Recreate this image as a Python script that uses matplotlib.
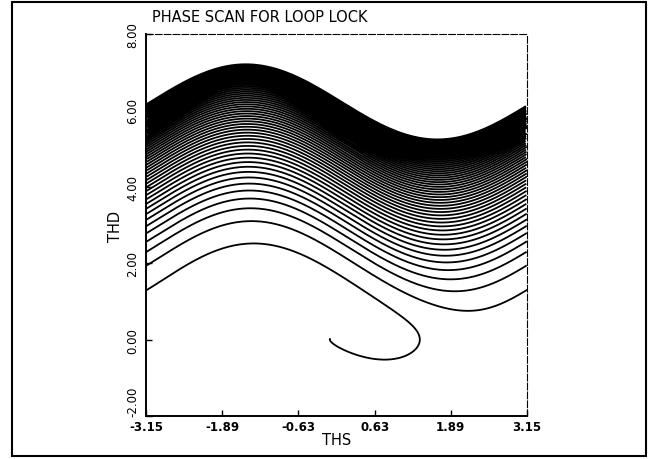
import math
import numpy as np
import matplotlib.pyplot as plt
from matplotlib.patches import Rectangle

# loop model: THS' = THD, THD' = -a*THD*cos(THS) - b*sin(THS)
loop_damping = 0.97
loop_gain = 0.50
start_ths = -3.15
start_thd = 6.155
dt = 0.005
t_max = 600.0
tail_time = 0.25

x_ticks = [-3.15, -1.89, -0.63, 0.63, 1.89, 3.15]
x_tick_labels = ["-3.15", "-1.89", "-0.63", "0.63", "1.89", "3.15"]
y_ticks = [-2, 0, 2, 4, 6, 8]
y_tick_labels = ["-2.00", "0.00", "2.00", "4.00", "6.00", "8.00"]


def deriv(th, w):
    return w, -loop_damping * w * math.cos(th) - loop_gain * math.sin(th)


def scan():
    th, w = start_ths, start_thd
    ths, thd = [th], [w]
    went_negative = False
    stop_at = None
    t = 0.0
    while t < t_max:
        k1 = deriv(th, w)
        k2 = deriv(th + 0.5 * dt * k1[0], w + 0.5 * dt * k1[1])
        k3 = deriv(th + 0.5 * dt * k2[0], w + 0.5 * dt * k2[1])
        k4 = deriv(th + dt * k3[0], w + dt * k3[1])
        th += dt / 6 * (k1[0] + 2 * k2[0] + 2 * k3[0] + k4[0])
        w += dt / 6 * (k1[1] + 2 * k2[1] + 2 * k3[1] + k4[1])
        t += dt
        ths.append(th)
        thd.append(w)
        if w < 0:
            went_negative = True
        elif went_negative and stop_at is None:
            stop_at = t + tail_time
        if stop_at is not None and t >= stop_at:
            break
    return np.array(ths), np.array(thd)


ths, thd = scan()

# wrap phase into [-pi, pi) and break the line at each wrap
wrapped = (ths + np.pi) % (2 * np.pi) - np.pi
jumps = np.where(np.abs(np.diff(wrapped)) > np.pi)[0] + 1
x = np.insert(wrapped, jumps, np.nan)
y = np.insert(thd, jumps, np.nan)

fig = plt.figure(figsize=(6.54, 4.60), dpi=100)
ax = fig.add_axes([146 / 654, 1 - 417 / 460, 381 / 654, 382 / 460])

ax.plot(x, y, color="black", lw=1.3)

ax.set_xlim(-3.15, 3.15)
ax.set_ylim(-2, 8)
ax.set_xticks(x_ticks)
ax.set_xticklabels(x_tick_labels, fontsize=8.5, fontweight="bold")
ax.set_yticks(y_ticks)
ax.set_yticklabels(y_tick_labels, fontsize=8.5, rotation=90, va="center")
ax.get_yticklabels()[0].set_va("bottom")
ax.tick_params(direction="in", length=4, width=1.0)
ax.tick_params(axis="y", pad=5)
ax.tick_params(axis="x", pad=3)

for side in ["left", "bottom"]:
    ax.spines[side].set_linewidth(1.4)
for side in ["top", "right"]:
    ax.spines[side].set_linewidth(0.8)
    ax.spines[side].set_linestyle((0, (6, 2)))

ax.set_xlabel("THS", fontsize=10.5, labelpad=-1)
ax.set_ylabel("THD", fontsize=10.5, labelpad=2)

fig.text(152 / 654, 1 - 17 / 460, "PHASE SCAN FOR LOOP LOCK", fontsize=10.5,
         ha="left", va="center")

# outer frame round the whole page
fig.patches.append(Rectangle((12 / 654, 3 / 460), 634 / 654, 454 / 460,
                             transform=fig.transFigure, fill=False,
                             edgecolor="black", lw=1.5))

fig.savefig("out.png", dpi=100)
